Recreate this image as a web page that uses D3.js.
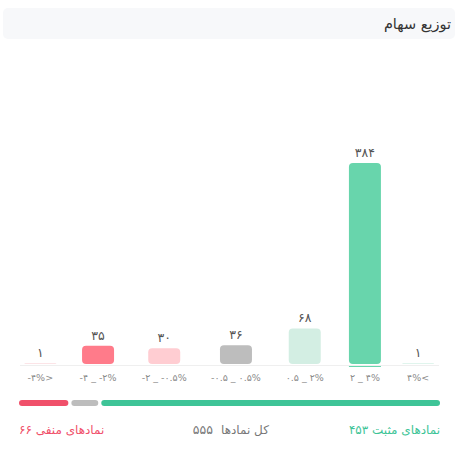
<!DOCTYPE html>
<html>
<head>
<meta charset="utf-8">
<script src="https://cdn.jsdelivr.net/npm/d3@7"></script>
<style>
  body { margin: 0; background: #fff; }
  svg { font-family: "DejaVu Sans", "Noto Sans", sans-serif; }
</style>
</head>
<body>
<script>
const title = 'توزیع سهام'
const categories = ['-۴%>', '-۴ _ -۲%', '-۲ _ -۰.۵%', '-۰.۵ _ ۰.۵%', '۰.۵ _ ۲%', '۲ _ ۴%', '۴%<']
const counts = [1, 35, 30, 36, 68, 384, 1]
const barColors = ['#e8485f', '#ff7b8a', '#ffcdd2', '#bdbdbd', '#d3eee3', '#68d5ac', '#2db886']
const groups = ['negative', 'neutral', 'positive']
const groupOf = [0, 0, 0, 1, 2, 2, 2]
const groupColors = ['#f0506a', '#bdbdbd', '#3ec497']
const groupTextColors = ['#f0506a', '#777', '#3ec497']
const groupLabels = ['نمادهای منفی', 'کل نمادها', 'نمادهای مثبت']

const fa = n => String(n).replace(/\d/g, d => '۰۱۲۳۴۵۶۷۸۹'[d])

const W = 463, H = 449
const plot = { left: 14, right: 443, top: 163, bottom: 364 }

const svg = d3.select('body').append('svg')
  .attr('width', W)
  .attr('height', H)

// header
svg.append('rect')
  .attr('x', 3).attr('y', 8)
  .attr('width', 452).attr('height', 31)
  .attr('rx', 5)
  .attr('fill', '#f7f8fa')
svg.append('text')
  .attr('x', 451).attr('y', 29)
  .attr('text-anchor', 'end')
  .attr('font-size', 14.5)
  .attr('fill', '#333')
  .text(title)

// x labels first, so columns can follow their widths
const labels = svg.append('g').selectAll('text').data(categories)
  .enter().append('text')
    .attr('y', 381)
    .attr('text-anchor', 'middle')
    .attr('font-size', 9.5)
    .attr('fill', '#8a8a8a')
    .text(d => d)

const widths = labels.nodes().map(n => n.getComputedTextLength())
const pad = 35
const cum = [0]
widths.forEach(w => cum.push(cum[cum.length - 1] + w + pad))
const x = d3.scaleLinear()
  .domain([0, cum[cum.length - 1]])
  .range([plot.left, plot.right])
const centers = widths.map((w, i) => x(cum[i] + (w + pad) / 2))

labels.attr('x', (d, i) => centers[i])

const y = d3.scaleLinear()
  .domain([0, d3.max(counts)])
  .range([plot.bottom, plot.top])

const barW = 32

// baseline
svg.append('line')
  .attr('x1', x(0) + 6).attr('x2', x.range()[1] - 4)
  .attr('y1', plot.bottom + 1.5).attr('y2', plot.bottom + 1.5)
  .attr('stroke', '#efefef')

// bars
svg.append('g').selectAll('rect').data(counts)
  .enter().append('rect')
    .attr('x', (d, i) => centers[i] - barW / 2)
    .attr('y', d => y(d))
    .attr('width', barW)
    .attr('height', d => y(0) - y(d))
    .attr('rx', d => Math.min(4, (y(0) - y(d)) / 2 + 1))
    .attr('fill', (d, i) => barColors[i])
    .attr('fill-opacity', d => y(0) - y(d) < 2 ? 0.3 : 1)

// highlight under the largest bar
const maxI = counts.indexOf(d3.max(counts))
svg.append('line')
  .attr('x1', centers[maxI] - barW / 2).attr('x2', centers[maxI] + barW / 2)
  .attr('y1', plot.bottom + 2.5).attr('y2', plot.bottom + 2.5)
  .attr('stroke', barColors[maxI])

// values
svg.append('g').selectAll('text').data(counts)
  .enter().append('text')
    .attr('x', (d, i) => centers[i])
    .attr('y', d => y(d) - 6)
    .attr('text-anchor', 'middle')
    .attr('font-size', 12.5)
    .attr('fill', '#555')
    .text(d => fa(d))

// summary bar
const totals = groups.map((g, k) => d3.sum(counts.filter((c, i) => groupOf[i] === k)))
const total = d3.sum(totals)
const gap = 3
const sx = d3.scaleLinear()
  .domain([0, total])
  .range([0, 421 - gap * (groups.length - 1)])
let acc = 19
const segs = totals.map((t, k) => {
  const s = { x: acc, w: sx(t), k }
  acc += sx(t) + gap
  return s
})
svg.append('g').selectAll('rect').data(segs)
  .enter().append('rect')
    .attr('x', d => d.x)
    .attr('y', 400)
    .attr('width', d => d.w)
    .attr('height', 6)
    .attr('rx', 3)
    .attr('fill', d => groupColors[d.k])

// summary texts
svg.append('text')
  .attr('x', 440).attr('y', 434)
  .attr('text-anchor', 'end')
  .attr('font-size', 12)
  .attr('fill', groupTextColors[2])
  .text(`${groupLabels[2]} ${fa(totals[2])}`)
svg.append('text')
  .attr('x', 19).attr('y', 434)
  .attr('text-anchor', 'start')
  .attr('font-size', 12)
  .attr('fill', groupTextColors[0])
  .text(`${groupLabels[0]} ${fa(totals[0])}`)
svg.append('text')
  .attr('x', 221).attr('y', 434)
  .attr('text-anchor', 'start')
  .attr('font-size', 12)
  .attr('fill', groupTextColors[1])
  .text(groupLabels[1])
svg.append('text')
  .attr('x', 213).attr('y', 434)
  .attr('text-anchor', 'end')
  .attr('font-size', 12.5)
  .attr('fill', groupTextColors[1])
  .text(fa(total))
</script>
</body>
</html>
